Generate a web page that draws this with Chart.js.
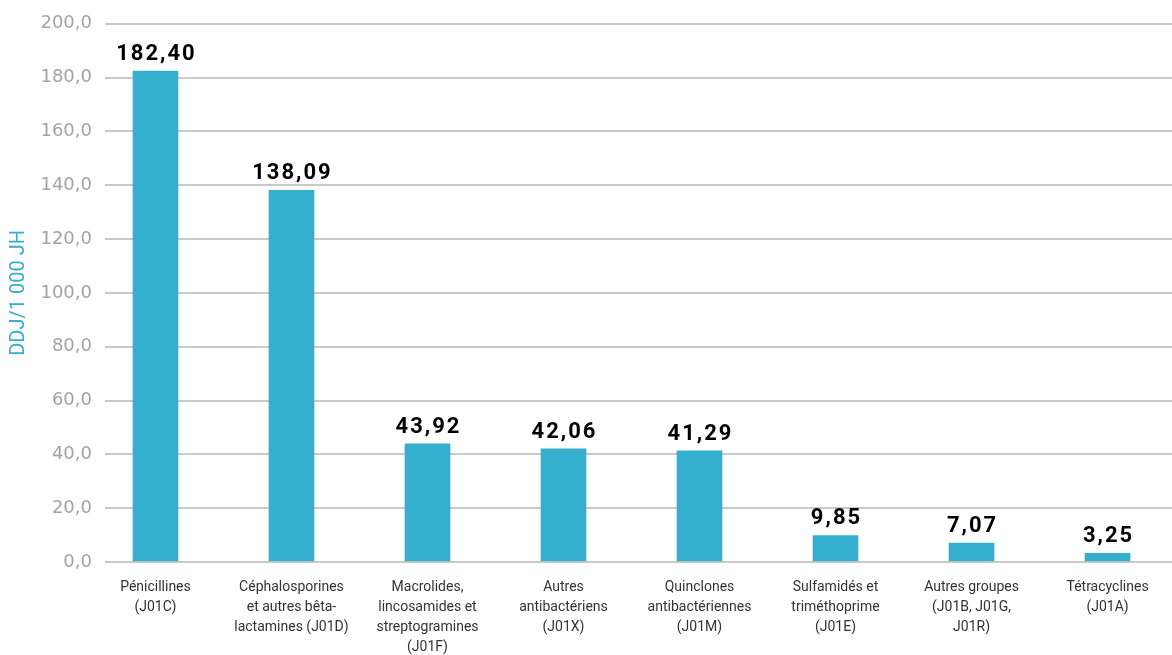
<!DOCTYPE html>
<html lang="fr">
<head>
<meta charset="utf-8">
<title>DDJ/1 000 JH par classe d'antibiotiques</title>
<script src="https://cdn.jsdelivr.net/npm/chart.js@4/dist/chart.umd.min.js"></script>
<style>
    html, body { margin:0; padding:0; background:#fff; overflow:hidden; }
    #wrap { width:1172px; height:655px; position:relative; }
</style>
</head>
<body>

<div id="wrap">
    <canvas id="ddjChart"></canvas>
</div>

<script>

// ======================================================
// DATA
// ======================================================

const categories = [
    ["Pénicillines", "(J01C)"],
    ["Céphalosporines", "et autres bêta-", "lactamines (J01D)"],
    ["Macrolides,", "lincosamides et", "streptogramines", "(J01F)"],
    ["Autres", "antibactériens", "(J01X)"],
    ["Quinclones", "antibactériennes", "(J01M)"],
    ["Sulfamidés et", "triméthoprime", "(J01E)"],
    ["Autres groupes", "(J01B, J01G,", "J01R)"],
    ["Tétracyclines", "(J01A)"]
];

const ddjValues = [182.40, 138.09, 43.92, 42.06, 41.29, 9.85, 7.07, 3.25];

const yTicks = [0, 20, 40, 60, 80, 100, 120, 140, 160, 180, 200];

const yTitle = "DDJ/1 000 JH";

// ======================================================
// HELPERS
// ======================================================

const BAR_COLOR = "#35afce";

function frNumber(value, digits){

    return Number(value).toFixed(digits).replace(".", ",");

}

// value labels above each bar
const valueLabels = {

    id:"valueLabels",

    afterDatasetsDraw(chart){

        const ctx = chart.ctx;

        const meta = chart.getDatasetMeta(0);

        ctx.save();

        ctx.font = "bold 22px Roboto, 'DejaVu Sans', sans-serif";

        ctx.fillStyle = "#000";

        ctx.textAlign = "center";

        ctx.textBaseline = "alphabetic";

        if("letterSpacing" in ctx) ctx.letterSpacing = "2px";

        meta.data.forEach((bar, i)=>{

            ctx.fillText(frNumber(ddjValues[i], 2), bar.x + 1, bar.y - 11);

        });

        ctx.restore();

    }

};

// ======================================================
// CHART
// ======================================================

const points =
    ddjValues.map((v, i)=>({ x:i, y:v }));

new Chart(document.getElementById("ddjChart"), {

    type:"bar",

    plugins:[valueLabels],

    data:{

        datasets:[{

            label:yTitle,

            data:points,

            backgroundColor:BAR_COLOR,

            borderWidth:0,

            barThickness:45

        }]

    },

    options:{

        responsive:true,

        maintainAspectRatio:false,

        animation:false,

        layout:{
            padding:{ top:22, right:0, bottom:0, left:0 }
        },

        plugins:{

            legend:{ display:false },

            tooltip:{ enabled:false }

        },

        scales:{

            x:{

                type:"linear",

                position:"bottom",

                offset:false,

                min:-0.371,

                max:7.474,

                afterBuildTicks:scale=>{
                    scale.ticks = categories.map((c, i)=>({ value:i }));
                },

                afterFit:scale=>{
                    scale.height = 93;
                },

                ticks:{

                    autoSkip:false,

                    maxRotation:0,

                    padding:7,

                    color:"#333",

                    font:{
                        family:"'Liberation Sans Narrow', 'Roboto', sans-serif",
                        size:14,
                        lineHeight:1.43
                    },

                    callback:value=>categories[value] || ""

                },

                grid:{ display:false },

                border:{ display:false }

            },

            y:{

                min:0,

                max:200,

                afterBuildTicks:scale=>{
                    scale.ticks = yTicks.map(v=>({ value:v }));
                },

                afterFit:scale=>{
                    scale.width = 105;
                },

                ticks:{

                    padding:13,

                    color:"#a5a2a3",

                    font:{
                        family:"'DejaVu Sans', sans-serif",
                        size:18
                    },

                    callback:value=>frNumber(value, 1)

                },

                grid:{

                    color:"#cbc8c9",

                    lineWidth:2,

                    drawTicks:false

                },

                border:{ display:false },

                title:{

                    display:true,

                    text:yTitle,

                    color:BAR_COLOR,

                    padding:{ top:7, bottom:0 },

                    font:{
                        family:"Roboto, sans-serif",
                        size:20
                    }

                }

            }

        }

    }

});

</script>

</body>
</html>
